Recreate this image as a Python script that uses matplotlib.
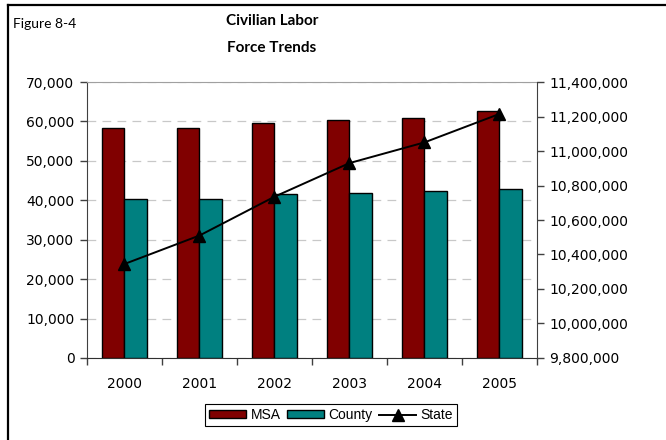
import numpy as np
import matplotlib.pyplot as plt
from matplotlib.lines import Line2D

plt.rcParams["font.family"] = ["DejaVu Sans"]

years = ["2000", "2001", "2002", "2003", "2004", "2005"]
msa = [58300, 58300, 59600, 60250, 60900, 62550]
county = [40450, 40450, 41550, 41900, 42300, 42750]
state = [10345000, 10510000, 10735000, 10930000, 11050000, 11215000]

x = np.arange(len(years))
bw = 0.3

fig = plt.figure(figsize=(6.66, 4.4), dpi=100)
ax = fig.add_axes([0.1306, 0.1864, 0.6757, 0.6272])

ax.bar(x - bw/2, msa, bw, color="#800000", edgecolor="black", lw=1, label="MSA", zorder=3)
ax.bar(x + bw/2, county, bw, color="#008080", edgecolor="black", lw=1, label="County", zorder=3)
ax.set_xlim(-0.5, len(years) - 0.5)
ax.set_ylim(0, 70000)
ax.set_yticks(np.arange(0, 70001, 10000))
ax.set_yticklabels([f"{v:,}" for v in range(0, 70001, 10000)], fontsize=10)
ax.yaxis.grid(True, ls=(0, (7, 5)), color="#c8c8c8", lw=0.9, zorder=0)
ax.set_xticks(x)
ax.set_xticklabels(years, fontsize=10)
ax.set_xticks(np.arange(-0.5, len(years)), minor=True)
ax.tick_params(axis="x", which="major", length=0, pad=14)
ax.tick_params(axis="x", which="minor", length=5, width=1, color="#404040")
ax.tick_params(axis="y", length=5, width=1, color="#404040", pad=4)
ax.spines["top"].set_color("#a0a0a0")
ax.spines["left"].set_color("#404040")
ax.spines["bottom"].set_color("#303030")
ax.spines["right"].set_visible(False)

ax2 = ax.twinx()
ax2.plot(x, state, color="black", lw=1.4, marker="^", ms=8, label="State", zorder=4)
ax2.set_ylim(9800000, 11400000)
ticks2 = np.arange(9800000, 11400001, 200000)
ax2.set_yticks(ticks2)
ax2.set_yticklabels([f"{v:,}" for v in ticks2], fontsize=10)
ax2.tick_params(axis="y", length=5, width=1, color="#404040", pad=4)
for s in ["top", "left", "bottom"]:
    ax2.spines[s].set_visible(False)
ax2.spines["right"].set_color("#404040")

h1, l1 = ax.get_legend_handles_labels()
h2, l2 = ax2.get_legend_handles_labels()
leg = fig.legend(h1 + h2, l1 + l2, loc="center", bbox_to_anchor=(331/666, 1 - 415/440),
                 ncol=3, fancybox=False, edgecolor="black", framealpha=1,
                 prop={"family": "Liberation Sans", "size": 10},
                 handlelength=2.7, handleheight=0.5, columnspacing=0.45, handletextpad=0.3,
                 borderpad=0.3)
leg.get_frame().set_linewidth(0.8)

fig.text(272/666, 1 - 21/440, "Civilian Labor", ha="center", va="center",
         fontsize=11, fontweight="bold", family="Lato")
fig.text(272/666, 1 - 48/440, "Force Trends", ha="center", va="center",
         fontsize=11, fontweight="bold", family="Lato")
fig.text(13/666, 1 - 24/440, "Figure 8-4", ha="left", va="center", fontsize=10, family="Lato")

# outer frame: only left and top edges fall inside the canvas
fig.add_artist(Line2D([8/666, 8/666], [0, 1 - 4.7/440], color="black", lw=1.6, transform=fig.transFigure))
fig.add_artist(Line2D([8/666, 1], [1 - 4.7/440, 1 - 4.7/440], color="black", lw=1.6, transform=fig.transFigure))

fig.savefig("out.png", dpi=100)
